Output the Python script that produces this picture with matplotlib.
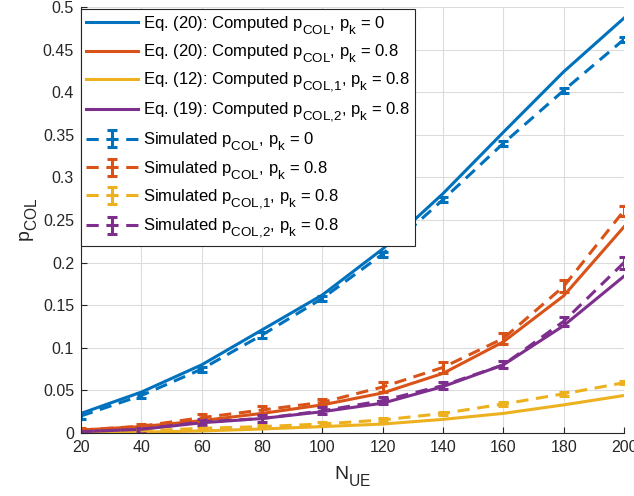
import matplotlib
matplotlib.use("Agg")
import matplotlib.pyplot as plt
import matplotlib._mathtext as _mt
import numpy as np

plt.rcParams['font.family'] = ['Liberation Sans', 'DejaVu Sans']
plt.rcParams['mathtext.fontset'] = 'custom'
plt.rcParams['mathtext.rm'] = 'Liberation Sans'
plt.rcParams['mathtext.it'] = 'Liberation Sans'
# larger, lower subscripts
_mt.SHRINK_FACTOR = 0.8
_mt.FontConstantsBase.sub1 = 0.75

n_ue = [20, 40, 60, 80, 100, 120, 140, 160, 180, 200]

# Analytical curves
eq20_pk0 = [0.023, 0.048, 0.080, 0.121, 0.162, 0.216, 0.281, 0.353, 0.424, 0.487]
eq20_pk08 = [0.0035, 0.0075, 0.0145, 0.023, 0.033, 0.047, 0.070, 0.107, 0.161, 0.242]
eq12_pk08 = [0.0003, 0.001, 0.0024, 0.0047, 0.0075, 0.0105, 0.016, 0.023, 0.033, 0.044]
eq19_pk08 = [0.0015, 0.0043, 0.012, 0.017, 0.025, 0.035, 0.0545, 0.080, 0.126, 0.184]

# Simulation results with error half-widths
sim_pk0 = [0.020, 0.044, 0.075, 0.115, 0.158, 0.210, 0.274, 0.340, 0.402, 0.462]
sim_pk0_err = [0.003, 0.003, 0.003, 0.003, 0.003, 0.003, 0.003, 0.003, 0.003, 0.003]
sim_pk08 = [0.0035, 0.008, 0.018, 0.027, 0.036, 0.054, 0.077, 0.111, 0.172, 0.261]
sim_pk08_err = [0.002, 0.003, 0.004, 0.005, 0.004, 0.006, 0.006, 0.006, 0.007, 0.006]
sim1_pk08 = [0.0005, 0.0025, 0.0055, 0.0075, 0.0106, 0.0153, 0.023, 0.034, 0.046, 0.059]
sim1_pk08_err = [0.001, 0.001, 0.002, 0.002, 0.002, 0.002, 0.002, 0.002, 0.002, 0.002]
sim2_pk08 = [0.0015, 0.0043, 0.013, 0.017, 0.026, 0.038, 0.0557, 0.080, 0.131, 0.200]
sim2_pk08_err = [0.002, 0.002, 0.004, 0.004, 0.004, 0.004, 0.004, 0.004, 0.005, 0.007]

blue = '#0072BD'
orange = '#D95319'
yellow = '#EDB120'
purple = '#7E2F8E'

fig = plt.figure(figsize=(6.34, 4.96), dpi=100)
ax = fig.add_axes([81/634, 63/496, 543/634, 426/496])

lw = 2.2
ax.plot(n_ue, eq20_pk0, color=blue, lw=lw,
        label=r'Eq. (20): Computed p$_{\mathrm{COL}}$, p$_{\mathrm{k}}$ = 0')
ax.plot(n_ue, eq20_pk08, color=orange, lw=lw,
        label=r'Eq. (20): Computed p$_{\mathrm{COL}}$, p$_{\mathrm{k}}$ = 0.8')
ax.plot(n_ue, eq12_pk08, color=yellow, lw=lw,
        label=r'Eq. (12): Computed p$_{\mathrm{COL{,}1}}$, p$_{\mathrm{k}}$ = 0.8')
ax.plot(n_ue, eq19_pk08, color=purple, lw=lw,
        label=r'Eq. (19): Computed p$_{\mathrm{COL{,}2}}$, p$_{\mathrm{k}}$ = 0.8')

sims = [
    (sim_pk0, sim_pk0_err, blue, r'Simulated p$_{\mathrm{COL}}$, p$_{\mathrm{k}}$ = 0'),
    (sim_pk08, sim_pk08_err, orange, r'Simulated p$_{\mathrm{COL}}$, p$_{\mathrm{k}}$ = 0.8'),
    (sim1_pk08, sim1_pk08_err, yellow, r'Simulated p$_{\mathrm{COL{,}1}}$, p$_{\mathrm{k}}$ = 0.8'),
    (sim2_pk08, sim2_pk08_err, purple, r'Simulated p$_{\mathrm{COL{,}2}}$, p$_{\mathrm{k}}$ = 0.8'),
]
for vals, err, col, lab in sims:
    cont = ax.errorbar(n_ue, vals, yerr=err, color=col, lw=lw, ls='--',
                       capsize=3.5, capthick=lw, elinewidth=lw, label=lab)
    cont[0].set_dashes((4, 2.5))

ax.set_xlim(20, 200)
ax.set_ylim(0, 0.5)
ax.set_xticks(n_ue)
yt = [0, 0.05, 0.1, 0.15, 0.2, 0.25, 0.3, 0.35, 0.4, 0.45, 0.5]
ax.set_yticks(yt)
ax.set_yticklabels(['0', '0.05', '0.1', '0.15', '0.2', '0.25', '0.3', '0.35', '0.4', '0.45', '0.5'])

ax.grid(True, color='#dcdcdc', lw=0.8)
ax.set_axisbelow(True)
for s in ['top', 'right']:
    ax.spines[s].set_visible(False)
for s in ['left', 'bottom']:
    ax.spines[s].set_color('#262626')
    ax.spines[s].set_linewidth(0.8)
ax.tick_params(direction='in', length=4, colors='#262626', labelsize=11.5, pad=5)

ax.set_xlabel(r'N$_{\mathrm{UE}}$', fontsize=14, color='#262626', labelpad=7)
ax.set_ylabel(r'p$_{\mathrm{COL}}$', fontsize=14, color='#262626', labelpad=2)

leg = ax.legend(loc='upper left', bbox_to_anchor=(0.0, 0.995), fontsize=12,
                frameon=True, fancybox=False, borderaxespad=0.0,
                labelspacing=0.34, handlelength=3.1, handletextpad=0.3,
                borderpad=0.3)
leg.get_frame().set_edgecolor('#262626')
leg.get_frame().set_linewidth(0.8)
leg.get_frame().set_alpha(1.0)

fig.savefig('out.png', dpi=100)
